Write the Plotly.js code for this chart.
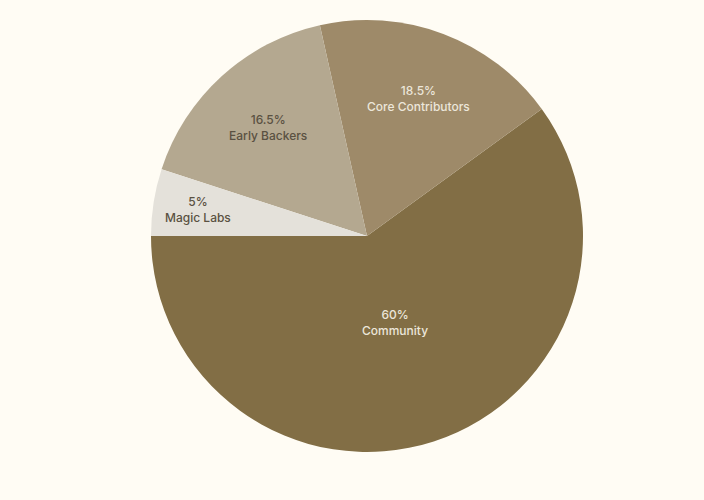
<!DOCTYPE html>
<html>
<head>
<meta charset="utf-8">
<script src="https://cdn.plot.ly/plotly-3.0.1.min.js"></script>
<style>html,body{margin:0;padding:0;background:#fffcf4;}</style>
</head>
<body>
<div id="chart" style="width:704px;height:500px;"></div>
<script>
const labels = ["Community", "Core Contributors", "Early Backers", "Magic Labs"];
const values = [60, 18.5, 16.5, 5];
const colors = ["#826e45", "#9e8a69", "#b4a890", "#e4e1da"];
const textColors = ["#ece6da", "#ece6da", "#5a5142", "#5a5142"];
const labelRadius = [0.42, 0.68, 0.68, 0.79];

const W = 704, H = 500;
const margin = {t: 20, b: 48, l: 30, r: 0};
const plotW = W - margin.l - margin.r, plotH = H - margin.t - margin.b;
const R = Math.min(plotW, plotH) / 2;
const startAngle = 180; // degrees, math convention (9 o'clock), slices go counterclockwise

const total = values.reduce((a, b) => a + b, 0);
const annotations = [];
let acc = 0;
values.forEach((v, i) => {
  const mid = startAngle + (acc + v / 2) / total * 360;
  acc += v;
  const rad = mid * Math.PI / 180;
  const r = R * labelRadius[i];
  const pct = Math.round(v / total * 1000) / 10;
  annotations.push({
    xref: "paper", yref: "paper",
    x: 0.5 + r * Math.cos(rad) / plotW,
    y: 0.5 + r * Math.sin(rad) / plotH,
    text: pct + "%<br>" + labels[i],
    showarrow: false,
    xanchor: "center", yanchor: "middle",
    align: "center",
    font: {family: "Inter, sans-serif", size: 12, weight: 500, color: textColors[i]}
  });
});

const trace = {
  type: "pie",
  labels: labels,
  values: values,
  sort: false,
  direction: "counterclockwise",
  rotation: 90 - (startAngle + 360 * values[0] / total) + 360,
  marker: {colors: colors, line: {width: 0}},
  textinfo: "none",
  hoverinfo: "label+percent",
  showlegend: false
};

const layout = {
  width: W,
  height: H,
  margin: margin,
  paper_bgcolor: "#fffcf4",
  plot_bgcolor: "#fffcf4",
  font: {family: "Inter, sans-serif"},
  showlegend: false,
  annotations: annotations
};

Plotly.newPlot("chart", [trace], layout, {displayModeBar: false, staticPlot: true});
</script>
</body>
</html>
